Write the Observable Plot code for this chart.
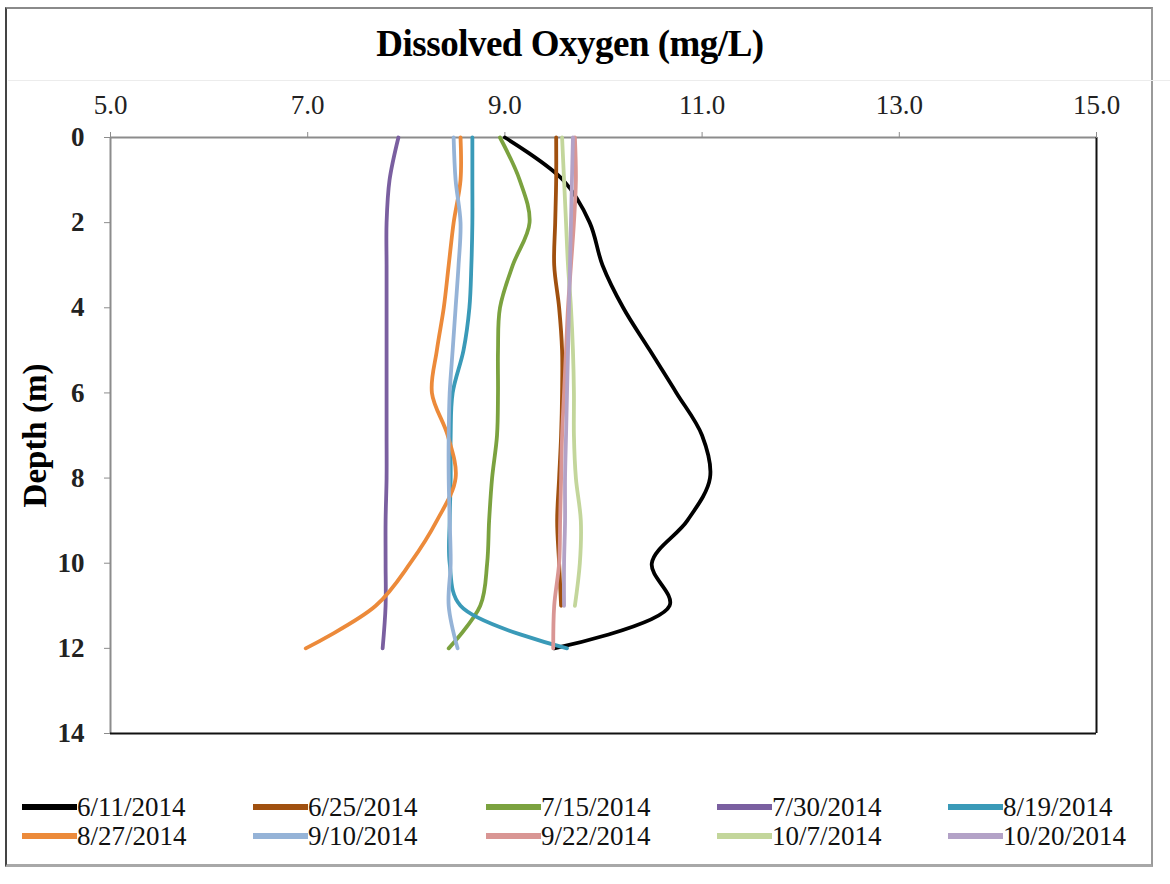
<!DOCTYPE html>
<html>
<head>
<meta charset="utf-8">
<script src="https://cdn.jsdelivr.net/npm/d3@7"></script>
<script src="https://cdn.jsdelivr.net/npm/@observablehq/plot@0.6"></script>
<style>
  html, body { margin: 0; padding: 0; background: #fff; }
  #page { position: relative; width: 1170px; height: 884px; overflow: hidden; font-family: "Liberation Serif", "Times New Roman", serif; }
  #box { position: absolute; left: 5px; top: 7px; width: 1144px; height: 855px; border-top: 2px solid #8a8a8a; border-left: 2px solid #444; border-right: 2px solid #9a9a9a; border-bottom: 3px solid #a8a8a8; box-sizing: content-box; }
  #title { position: absolute; left: 0; width: 1140px; top: 22px; text-align: center; font-weight: bold; font-size: 37px; color: #000; letter-spacing: -0.5px; }
  #sep { position: absolute; left: 8px; width: 1162px; top: 80px; height: 1px; background: #ececec; }
  #chart { position: absolute; left: 0; top: 90px; }
  #legend { position: absolute; left: 0; top: 790px; width: 1170px; }
  .item { position: absolute; display: flex; align-items: center; font-size: 27px; line-height: 30px; color: #111; }
  .sw { width: 55px; height: 6px; margin-right: 0px; }
</style>
</head>
<body>
<div id="page">
  <div id="box"></div>
  <div id="title">Dissolved Oxygen (mg/L)</div>
  <div id="sep"></div>
  <div id="chart"></div>
  <div id="legend"></div>
</div>
<script>
// ---- data ----
const dates = ["6/11/2014","6/25/2014","7/15/2014","7/30/2014","8/19/2014","8/27/2014","9/10/2014","9/22/2014","10/7/2014","10/20/2014"];
const colors = ["#000000","#A0500F","#7BA23F","#7A5FA0","#3A9AB8","#EC8A3A","#95B3D7","#D99694","#C3D69B","#B3A2C7"];
const depths = [0,1,2,3,4,5,6,7,8,9,10,11,12];
const do_0611 = [9.0, 9.59, 9.86, 9.99, 10.2, 10.47, 10.74, 11.0, 11.08, 10.85, 10.49, 10.67, 9.5];
const do_0625 = [9.52, 9.52, 9.51, 9.5, 9.55, 9.58, 9.58, 9.57, 9.55, 9.53, 9.55, 9.57];
const do_0715 = [8.95, 9.15, 9.25, 9.08, 8.95, 8.93, 8.93, 8.92, 8.87, 8.84, 8.82, 8.75, 8.43];
const do_0730 = [7.92, 7.83, 7.8, 7.8, 7.8, 7.8, 7.8, 7.8, 7.8, 7.79, 7.79, 7.79, 7.76];
const do_0819 = [8.67, 8.67, 8.67, 8.66, 8.64, 8.58, 8.47, 8.45, 8.45, 8.44, 8.44, 8.55, 9.63];
const do_0827 = [8.55, 8.55, 8.48, 8.43, 8.38, 8.31, 8.26, 8.42, 8.5, 8.31, 8.04, 7.69, 6.98];
const do_0910 = [8.48, 8.5, 8.55, 8.53, 8.5, 8.47, 8.44, 8.43, 8.43, 8.44, 8.45, 8.43, 8.52];
const do_0922 = [9.71, 9.72, 9.7, 9.67, 9.64, 9.62, 9.6, 9.58, 9.57, 9.56, 9.55, 9.5, 9.49];
const do_1007 = [9.58, 9.6, 9.62, 9.64, 9.67, 9.69, 9.7, 9.7, 9.72, 9.77, 9.76, 9.71];
const do_1020 = [9.69, 9.68, 9.67, 9.66, 9.65, 9.64, 9.63, 9.62, 9.61, 9.61, 9.6, 9.6];
const xTicks = [5, 7, 9, 11, 13, 15];
const yTicks = [0, 2, 4, 6, 8, 10, 12, 14];

const series = [do_0611, do_0625, do_0715, do_0730, do_0819, do_0827, do_0910, do_0922, do_1007, do_1020];
const rows = [];
series.forEach((vals, i) => vals.forEach((v, j) => rows.push({date: dates[i], depth: depths[j], value: v})));

const W = 1170, H = 670;
const chart = Plot.plot({
  width: W,
  height: H,
  marginLeft: 110,
  marginRight: 74,
  marginTop: 47,
  marginBottom: 27,
  style: {fontFamily: "'Liberation Serif', 'Times New Roman', serif", background: "transparent"},
  x: {domain: [5, 15]},
  y: {domain: [0, 14], reverse: true},
  color: {domain: dates, range: colors},
  marks: [
    Plot.ruleY([0], {stroke: "#8c8c8c", strokeWidth: 2}),
    Plot.ruleX([5], {stroke: "#8c8c8c", strokeWidth: 2}),
    Plot.ruleX([15], {stroke: "#111", strokeWidth: 2}),
    Plot.ruleY([14], {stroke: "#111", strokeWidth: 2}),
    Plot.axisX({anchor: "top", ticks: xTicks, tickFormat: d3.format(".1f"), tickSize: 6, tickPadding: 18, fontSize: 27, stroke: "#8c8c8c", fill: "#222", label: null}),
    Plot.axisY({anchor: "left", ticks: yTicks, tickSize: 6, tickPadding: 20, fontSize: 27, fontWeight: "bold", stroke: "#8c8c8c", fill: "#222", label: null}),
    Plot.line(rows, {x: "value", y: "depth", z: "date", stroke: "date", curve: "catmull-rom", strokeWidth: 3.8, strokeLinejoin: "round", strokeLinecap: "round"}),
    Plot.text(["Depth (m)"], {frameAnchor: "left", textAnchor: "middle", dx: -75, rotate: -90, fontSize: 33, fontWeight: "bold", fill: "#000"})
  ]
});
document.getElementById("chart").appendChild(chart);

// legend
const legend = document.getElementById("legend");
const colX = [22, 253, 486, 717, 948];
const rowY = [2, 31];
dates.forEach((d, i) => {
  const el = document.createElement("div");
  el.className = "item";
  el.style.left = colX[i % 5] + "px";
  el.style.top = rowY[Math.floor(i / 5)] + "px";
  const sw = document.createElement("span");
  sw.className = "sw";
  sw.style.background = colors[i];
  const t = document.createElement("span");
  t.textContent = d;
  el.appendChild(sw);
  el.appendChild(t);
  legend.appendChild(el);
});
</script>
</body>
</html>
